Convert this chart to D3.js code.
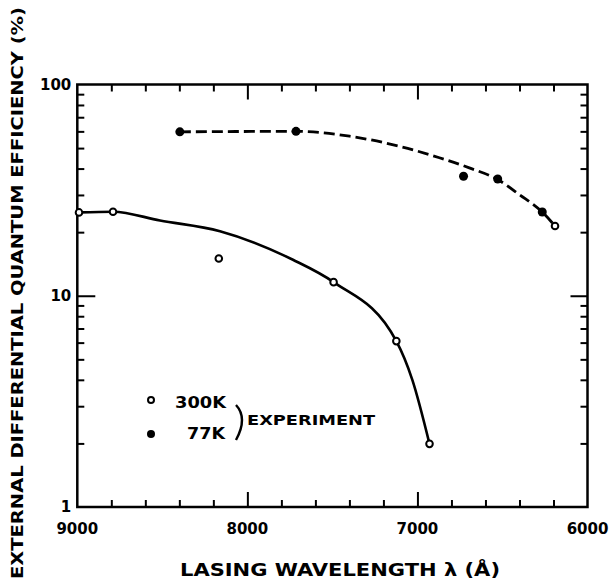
<!DOCTYPE html>
<html>
<head>
<meta charset="utf-8">
<script src="https://cdn.jsdelivr.net/npm/d3@7"></script>
<style>
  html, body { margin: 0; padding: 0; background: #fff; }
  svg { display: block; }
  text { font-family: "DejaVu Sans", "Liberation Sans", sans-serif; font-weight: bold; fill: #000; }
</style>
</head>
<body>
<svg id="chart" width="610" height="586"></svg>
<script>
// ---- data (wavelength in Å, efficiency in %) ----
const wl300K  = [8990, 8790, 8168, 7493, 7124, 6929, 6191];
const eff300K = [24.8, 25.0, 15.0, 11.6, 6.1, 1.99, 21.4];
const wl77K   = [8397, 7714, 6729, 6528, 6266];
const eff77K  = [59.7, 60.0, 36.8, 35.7, 24.9];
// fitted curves drawn in the figure
const solidWl   = [8990, 8790, 8514, 8161, 7732, 7493, 7124, 7030, 6929];
const solidEff  = [24.8, 25.0, 22.7, 20.2, 14.8, 11.6, 6.1, 4.0, 1.99];
const dashedWl  = [8397, 7714, 7399, 7106, 6871, 6695, 6528, 6400, 6266, 6191];
const dashedEff = [59.7, 60.0, 56.9, 51.0, 45.0, 40.3, 35.5, 30.1, 24.9, 21.4];
// axes
const xTickLabels = [9000, 8000, 7000, 6000];
const xMajorTicks = [8000, 7000];
const xMinorTicks = d3.range(9000, 5999, -200).filter(v => v % 1000 !== 0);
const yTickLabels = [1, 10, 100];
const yMajorTicks = [10];
const yMinorTicks = [2,3,4,5,6,7,8,9,20,30,40,50,60,70,80,90];
const xTitle = "LASING  WAVELENGTH λ (Å)";
const yTitle = "EXTERNAL DIFFERENTIAL QUANTUM EFFICIENCY (%)";
const legendLabels = ["300K", "77K"];
const legendNote = "EXPERIMENT";

// ---- layout ----
const L = 77.3, R = 587.5, T = 84.5, B = 507;
const svg = d3.select("#chart");
const x = d3.scaleLinear().domain([9000, 6000]).range([L, R]);
const y = d3.scaleLog().domain([1, 100]).range([B, T]);

// ticks (inside)
function tickAxis(axisFn, scale, vals, size, tx, ty) {
  const g = svg.append("g").attr("transform", `translate(${tx},${ty})`)
    .call(axisFn(scale).tickValues(vals).tickSize(-size).tickFormat(""));
  g.select(".domain").remove();
  g.selectAll(".tick line").attr("stroke", "#000").attr("stroke-width", 2);
  return g;
}
tickAxis(d3.axisBottom, x, xMinorTicks, 7, 0, B);
tickAxis(d3.axisBottom, x, xMajorTicks, 15, 0, B);
tickAxis(d3.axisTop, x, xMinorTicks, 7, 0, T);
tickAxis(d3.axisTop, x, xMajorTicks, 15, 0, T);
tickAxis(d3.axisLeft, y, yMinorTicks, 7, L, 0);
tickAxis(d3.axisLeft, y, yMajorTicks, 18, L, 0);
tickAxis(d3.axisRight, y, yMinorTicks, 7, R, 0);
tickAxis(d3.axisRight, y, yMajorTicks, 17, R, 0);

// frame
svg.append("rect").attr("x", L).attr("y", T).attr("width", R - L).attr("height", B - T)
  .attr("fill", "none").attr("stroke", "#000").attr("stroke-width", 2.5);

// tick labels
svg.append("g").selectAll("text").data(xTickLabels).join("text")
  .attr("x", d => x(d)).attr("y", B + 27)
  .attr("text-anchor", "middle").attr("font-size", 15).text(d => d);
svg.append("g").selectAll("text").data(yTickLabels).join("text")
  .attr("x", L - 6).attr("y", d => y(d) + 5)
  .attr("text-anchor", "end").attr("font-size", 15).text(d => d);

// titles
svg.append("text").attr("x", 340).attr("y", 576).attr("text-anchor", "middle")
  .attr("font-size", 17).attr("textLength", 320).attr("lengthAdjust", "spacingAndGlyphs")
  .text(xTitle);
svg.append("text").attr("transform", "translate(23,293) rotate(-90)").attr("text-anchor", "middle")
  .attr("font-size", 16).attr("textLength", 572).attr("lengthAdjust", "spacingAndGlyphs")
  .text(yTitle);

// curves
const line = d3.line().x(d => x(d[0])).y(d => y(d[1])).curve(d3.curveMonotoneX);
svg.append("path").datum(d3.zip(solidWl, solidEff)).attr("d", line)
  .attr("fill", "none").attr("stroke", "#000").attr("stroke-width", 2.6);
svg.append("path").datum(d3.zip(dashedWl, dashedEff)).attr("d", line)
  .attr("fill", "none").attr("stroke", "#000").attr("stroke-width", 2.8)
  .attr("stroke-dasharray", "11,5");

// markers
svg.append("g").selectAll("circle").data(d3.zip(wl300K, eff300K)).join("circle")
  .attr("cx", d => x(d[0])).attr("cy", d => y(d[1])).attr("r", 3.3)
  .attr("fill", "#fff").attr("stroke", "#000").attr("stroke-width", 2);
svg.append("g").selectAll("circle").data(d3.zip(wl77K, eff77K)).join("circle")
  .attr("cx", d => x(d[0])).attr("cy", d => y(d[1])).attr("r", 4.5)
  .attr("fill", "#000");

// legend
const lg = svg.append("g");
lg.append("circle").attr("cx", 151).attr("cy", 400).attr("r", 3).attr("fill", "#fff")
  .attr("stroke", "#000").attr("stroke-width", 2);
lg.append("circle").attr("cx", 151).attr("cy", 434).attr("r", 4).attr("fill", "#000");
lg.append("text").attr("x", 175).attr("y", 408).attr("font-size", 15)
  .attr("textLength", 51).attr("lengthAdjust", "spacingAndGlyphs").text(legendLabels[0]);
lg.append("text").attr("x", 187).attr("y", 439).attr("font-size", 15)
  .attr("textLength", 38).attr("lengthAdjust", "spacingAndGlyphs").text(legendLabels[1]);
lg.append("path").attr("d", "M236,405 Q248,418 236,440").attr("fill", "none")
  .attr("stroke", "#000").attr("stroke-width", 2.4);
lg.append("text").attr("x", 247).attr("y", 425).attr("font-size", 14)
  .attr("textLength", 128).attr("lengthAdjust", "spacingAndGlyphs").text(legendNote);
</script>
</body>
</html>
